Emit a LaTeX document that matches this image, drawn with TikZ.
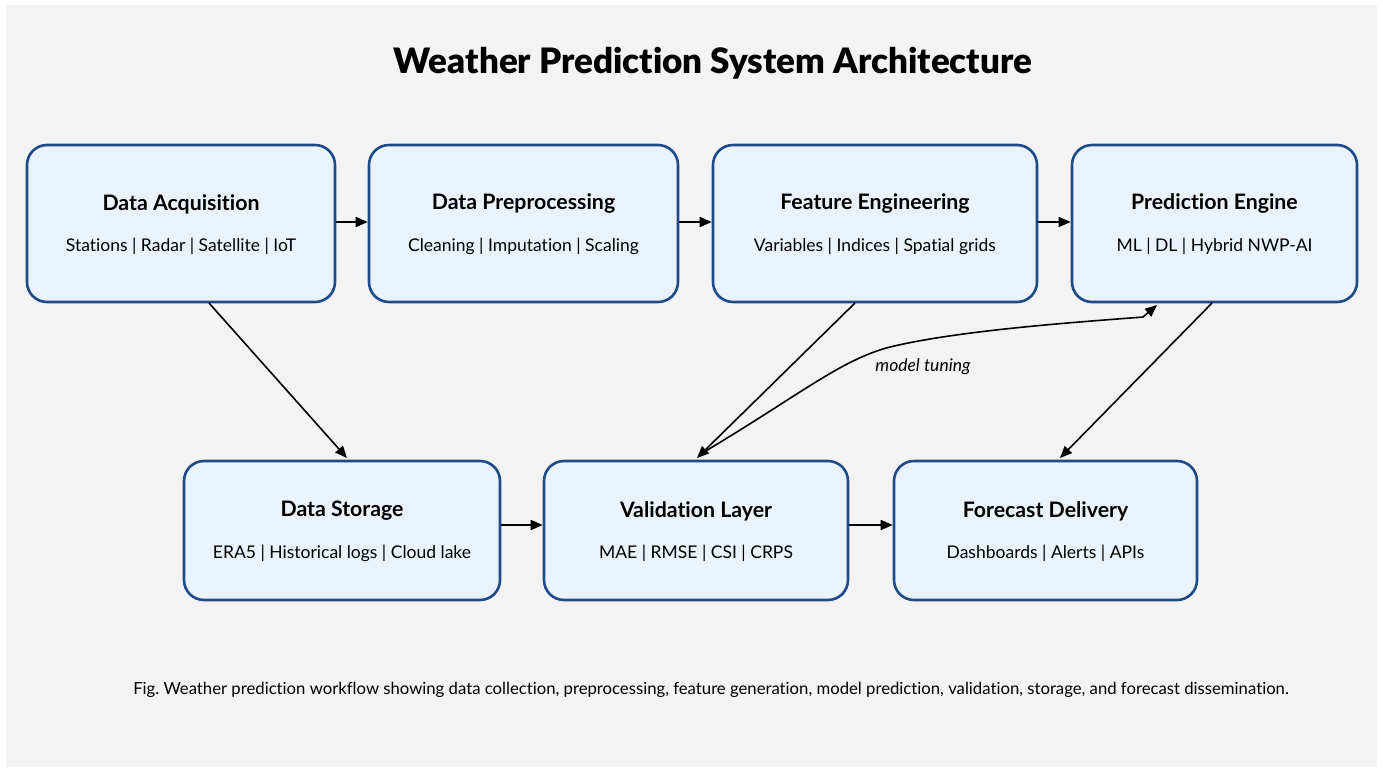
\documentclass[tikz,border=0pt]{standalone}
\usepackage{fontspec}
\setmainfont{Lato}[Ligatures=NoCommon]
\newfontfamily\titlefont{Lato Black}[Ligatures=NoCommon]
\usetikzlibrary{arrows.meta}
\frenchspacing
\definecolor{bg}{HTML}{F3F3F3}
\definecolor{boxfill}{HTML}{EAF2FC}
\definecolor{boxline}{HTML}{1E4A86}
\tikzset{
  stage/.style={draw=boxline, line width=2.6pt, fill=boxfill, rounded corners=20pt, inner sep=0pt},
  conn/.style={-{Triangle[length=12pt,width=10pt]}, line width=1.6pt, black},
  ttl/.style={font=\fontsize{21.3}{25}\selectfont\bfseries},
  sub/.style={font=\fontsize{17.5}{20}\selectfont},
}
\newcommand{\stagebox}[7]{%
  \node[stage, minimum width=#4pt, minimum height=#5pt] (#1) at (#2,#3) {};
  \node[ttl] (#1t) at (#2,#3-19.5) {#6};
  \node[sub] (#1s) at (#2,#3+22.5) {#7};
}
\begin{document}
\begin{tikzpicture}[x=1pt,y=-1pt]
\useasboundingbox (0,0) rectangle (1383,772);
\fill[white] (0,0) rectangle (1383,772);
\fill[bg] (6,5) rectangle (1377,767);
\node[font=\fontsize{35}{42}\selectfont\titlefont] (title) at (713,63) {Weather Prediction System Architecture};
\stagebox{acq}{181}{223.5}{308}{157}{Data Acquisition}{Stations | Radar | Satellite | IoT}
\stagebox{pre}{523.5}{223.5}{309}{157}{Data Preprocessing}{Cleaning | Imputation | Scaling}
\stagebox{fea}{875}{223.5}{324}{157}{Feature Engineering}{Variables | Indices | Spatial grids}
\stagebox{pred}{1214.5}{223.5}{285}{157}{Prediction Engine}{ML | DL | Hybrid NWP-AI}
\stagebox{sto}{342}{530.5}{316}{139}{Data Storage}{ERA5 | Historical logs | Cloud lake}
\stagebox{val}{696}{530.5}{304}{139}{Validation Layer}{MAE | RMSE | CSI | CRPS}
\stagebox{del}{1045.5}{530.5}{303}{139}{Forecast Delivery}{Dashboards | Alerts | APIs}
\draw[conn] (acq.east |- 0,222) -- (pre.west |- 0,222);
\draw[conn] (pre.east |- 0,222) -- (fea.west |- 0,222);
\draw[conn] (fea.east |- 0,222) -- (pred.west |- 0,222);
\draw[conn] (sto.east |- 0,525) -- (val.west |- 0,525);
\draw[conn] (val.east |- 0,525) -- (del.west |- 0,525);
\coordinate (a1) at (209,303);
\coordinate (s1) at (347,458);
\draw[conn] (a1) -- (s1);
\coordinate (f1) at (855,303);
\coordinate (v1) at (697,458);
\draw[conn] (f1) -- (v1);
\coordinate (p1) at (1212,303);
\coordinate (d1) at (1060,458);
\draw[conn] (p1) -- (d1);
\coordinate (v2) at (699,455);
\coordinate (p2) at (1157,305);
\draw[conn] (v2) .. controls (800,395) and (840,360) .. (890,347)
  .. controls (960,330) and (1080,322) .. (1143,317) -- (p2);
\node[font=\fontsize{17.5}{20}\selectfont\itshape] (tune) at (923,367) {model tuning};
\node[font=\fontsize{16.7}{20}\selectfont] (cap) at (711,690) {Fig. Weather prediction workflow showing data collection, preprocessing, feature generation, model prediction, validation, storage, and forecast dissemination.};
\end{tikzpicture}
\end{document}
